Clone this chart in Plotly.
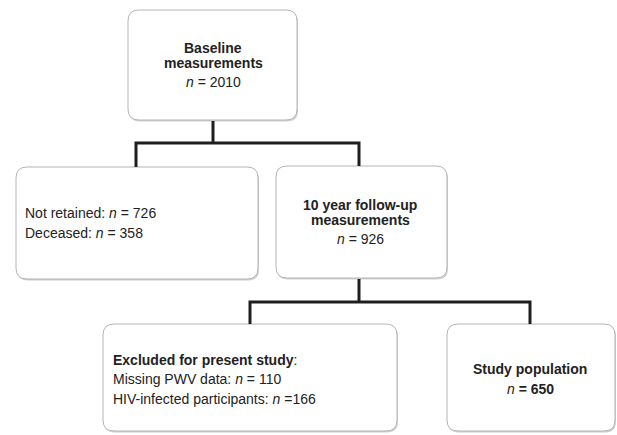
import plotly.graph_objects as go

# ---- content ----
box_titles = ["Baseline<br>measurements", "", "10 year follow-up<br>measurements",
              "Excluded for present study", "Study population"]
counts_baseline = [2010]
counts_lost = [726, 358]          # not retained, deceased
lost_labels = ["Not retained", "Deceased"]
counts_followup = [926]
counts_excluded = [110, 166]      # missing PWV, HIV-infected
excluded_labels = ["Missing PWV data", "HIV-infected participants"]
counts_study = [650]

# ---- geometry (pixels) ----
W, H = 617, 435
boxes = {
    "base": (128, 10, 297, 120),
    "lost": (16, 167, 258, 279),
    "fu":   (276, 166, 447, 278),
    "exc":  (103, 324, 397, 431),
    "study": (447, 324, 615, 431),
}
R = 11
FONT = "Liberation Sans, Arial, sans-serif"
TXT = "#222222"
FS = 14


def rr_path(x0, y0, x1, y1, r):
    return (f"M{x0+r},{y0} L{x1-r},{y0} Q{x1},{y0} {x1},{y0+r} "
            f"L{x1},{y1-r} Q{x1},{y1} {x1-r},{y1} L{x0+r},{y1} "
            f"Q{x0},{y1} {x0},{y1-r} L{x0},{y0+r} Q{x0},{y0} {x0+r},{y0} Z")


shapes = []
for (x0, y0, x1, y1) in boxes.values():
    shapes.append(dict(type="path", path=rr_path(x0 + 1, y0 + 1.5, x1 + 1, y1 + 1.5, R),
                       line=dict(color="rgba(0,0,0,0)", width=0), fillcolor="#d0d0d0",
                       layer="below"))
    shapes.append(dict(type="path", path=rr_path(x0, y0, x1, y1, R),
                       line=dict(color="#b4b4b4", width=1), fillcolor="white",
                       layer="below"))

LC = "#1e1e1e"
LW = 3
connectors = [
    [(213, 121), (213, 143)],
    [(136, 167), (136, 143), (359, 143), (359, 166)],
    [(359, 279), (359, 302)],
    [(250, 324), (250, 302), (530, 302), (530, 324)],
]
for pts in connectors:
    p = "M" + " L".join(f"{x},{y}" for x, y in pts)
    shapes.append(dict(type="path", path=p, line=dict(color=LC, width=LW)))

ann = []


def txt(x, y, s, anchor="center"):
    ann.append(dict(x=x, y=y, text=s, showarrow=False, xanchor=anchor, yanchor="middle",
                    font=dict(family=FONT, size=FS, color=TXT),
                    align=anchor if anchor != "center" else "center"))


# Baseline
t = box_titles[0].split("<br>")
txt(213, 48, f"<b>{t[0]}</b>")
txt(213, 63, f"<b>{t[1]}</b>")
txt(213, 82, f"<i>n</i> = {counts_baseline[0]}")
# lost
txt(23, 213, f"{lost_labels[0]}: <i>n</i> = {counts_lost[0]}", "left")
txt(23, 233, f"{lost_labels[1]}: <i>n</i> = {counts_lost[1]}", "left")
# follow-up
t = box_titles[2].split("<br>")
txt(360, 205, f"<b>{t[0]}</b>")
txt(360, 220, f"<b>{t[1]}</b>")
txt(360, 239, f"<i>n</i> = {counts_followup[0]}")
# excluded
txt(111, 360, f"<b>{box_titles[3]}</b>:", "left")
txt(111, 379, f"{excluded_labels[0]}: <i>n</i> = {counts_excluded[0]}", "left")
txt(111, 399, f"{excluded_labels[1]}: <i>n</i> ={counts_excluded[1]}", "left")
# study
txt(530, 369, f"<b>{box_titles[4]}</b>")
txt(530, 389, f"<i>n</i><b> = {counts_study[0]}</b>")

fig = go.Figure()
fig.update_layout(
    width=W, height=H, margin=dict(l=0, r=0, t=0, b=0),
    paper_bgcolor="white", plot_bgcolor="white",
    xaxis=dict(range=[0, W], visible=False, fixedrange=True),
    yaxis=dict(range=[H, 0], visible=False, fixedrange=True),
    shapes=shapes, annotations=ann, showlegend=False,
)
fig.write_html("out.html", config={"displayModeBar": False},
               post_script="document.body.style.margin='0';")
